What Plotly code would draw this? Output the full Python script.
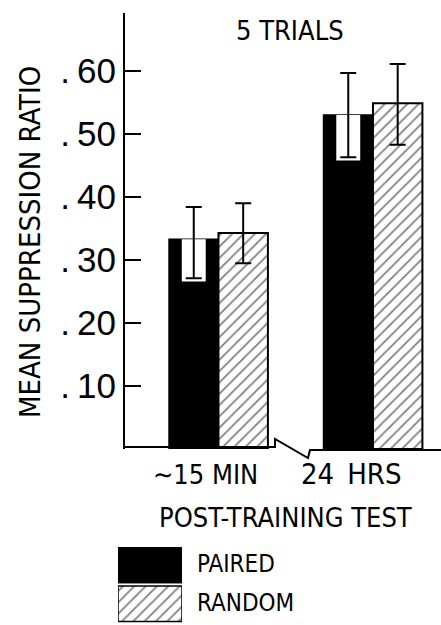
import plotly.graph_objects as go

# ---- data ----
groups = ["∼15 MIN", "24\u2002HRS"]
group_pos = [0, 1]
paired = [0.333, 0.530]
random_ = [0.343, 0.549]
paired_err_plus = [0.051, 0.067]
paired_err_minus = [0.062, 0.067]
random_err_plus = [0.047, 0.062]
random_err_minus = [0.048, 0.066]
ytick_vals = [0.1, 0.2, 0.3, 0.4, 0.5, 0.6]
ytick_text = [".\u200910", ".\u200920", ".\u200930", ".\u200940", ".\u200950", ".\u200960"]
legend_labels = ["PAIRED", "RANDOM"]
title_text = "5 TRIALS"
xtitle_text = "POST-TRAINING TEST"
ytitle_text = "MEAN SUPPRESSION RATIO"

# ---- geometry (pixels) ----
WIDTH, HEIGHT = 441, 625
L, R, T, B = 110, 0, 13, 2
PW, PH = WIDTH - L - R, HEIGHT - T - B


def pxx(px):
    return (px - L) / PW


def pxy(py):
    return (HEIGHT - B - py) / PH


FONT = "DejaVu Sans Condensed, DejaVu Sans, sans-serif"
TICKFONT = "Liberation Sans, Arial, sans-serif"

off = 0.16
bw = 0.32
px_paired = [g - off for g in group_pos]
px_random = [g + off for g in group_pos]

hatch = dict(shape="/", fgcolor="black", bgcolor="white", size=8, solidity=0.22)

fig = go.Figure()
fig.add_trace(go.Bar(x=px_paired, y=paired, width=bw, marker=dict(color="black", line=dict(color="black", width=1.5)),
                     showlegend=False, hoverinfo="skip"))
fig.add_trace(go.Bar(x=px_random, y=random_, width=bw,
                     marker=dict(color="white", line=dict(color="black", width=2), pattern=hatch),
                     showlegend=False, hoverinfo="skip"))
# white cut-out inside paired bars around the lower error bar
gap = 0.005
fig.add_trace(go.Bar(x=px_paired, y=[m + gap for m in paired_err_minus],
                     base=[p - m - gap for p, m in zip(paired, paired_err_minus)], width=0.155,
                     marker=dict(color="white", line=dict(width=0)), showlegend=False, hoverinfo="skip"))
# error bars
fig.add_trace(go.Scatter(x=px_paired, y=paired, mode="markers", marker=dict(size=1, opacity=0),
                         error_y=dict(type="data", symmetric=False, array=paired_err_plus,
                                      arrayminus=paired_err_minus, color="black", thickness=2, width=8),
                         showlegend=False, hoverinfo="skip"))
fig.add_trace(go.Scatter(x=px_random, y=random_, mode="markers", marker=dict(size=1, opacity=0),
                         error_y=dict(type="data", symmetric=False, array=random_err_plus,
                                      arrayminus=random_err_minus, color="black", thickness=2, width=8),
                         showlegend=False, hoverinfo="skip"))

# legend swatches on their own small axes
fig.add_trace(go.Bar(x=[1], y=[legend_labels[0]], orientation="h", xaxis="x2", yaxis="y2",
                     marker=dict(color="black", line=dict(color="black", width=1)), showlegend=False, hoverinfo="skip"))
fig.add_trace(go.Bar(x=[1], y=[legend_labels[1]], orientation="h", xaxis="x2", yaxis="y2",
                     marker=dict(color="white", line=dict(color="black", width=1.5), pattern=hatch),
                     showlegend=False, hoverinfo="skip"))

x_left = -0.605
x_right = x_left + PW * (1 - pxx(125)) / 154.5

fig.update_layout(
    width=WIDTH, height=HEIGHT,
    margin=dict(l=L, r=R, t=T, b=B, autoexpand=False),
    paper_bgcolor="white", plot_bgcolor="white",
    barmode="overlay", bargap=0.08,
    xaxis=dict(domain=[pxx(125), 1], range=[x_left, x_right], visible=False, automargin=False),
    yaxis=dict(domain=[pxy(449), 1], range=[0, 436 / 630], showline=True, linecolor="black", linewidth=2,
               ticks="inside", ticklen=16, tickwidth=1.5, tickcolor="black", automargin=False,
               tickvals=ytick_vals, ticktext=ytick_text, showgrid=False, zeroline=False,
               tickfont=dict(family=TICKFONT, size=35, color="black")),
    xaxis2=dict(domain=[pxx(118), pxx(182)], range=[0, 1], visible=False, anchor="y2", automargin=False),
    yaxis2=dict(domain=[0, pxy(546)], range=[-0.5, 1.5], visible=False, anchor="x2", automargin=False,
                categoryorder="array", categoryarray=[legend_labels[1], legend_labels[0]]),
)

# axis break baseline
pts = [(123, 447), (275, 447), (275, 439), (308, 458), (310, 450), (441, 450)]
path = "M " + " L ".join(f"{pxx(a):.5f},{pxy(b):.5f}" for a, b in pts)
fig.add_shape(type="path", path=path, xref="paper", yref="paper", line=dict(color="black", width=2))

ann = []
ann.append(dict(text=title_text, x=pxx(290), y=pxy(31), font=dict(size=27)))
ann.append(dict(text=groups[0], x=pxx(205), y=pxy(474), font=dict(size=27)))
ann.append(dict(text=groups[1], x=pxx(351), y=pxy(474), font=dict(size=29)))
ann.append(dict(text=xtitle_text, x=pxx(285), y=pxy(517), font=dict(size=27)))
ann.append(dict(text=ytitle_text, x=pxx(30), y=pxy(242), textangle=-90, font=dict(size=29)))
ann.append(dict(text=legend_labels[0], x=pxx(195), y=pxy(564), xanchor="left", font=dict(size=24)))
ann.append(dict(text=legend_labels[1], x=pxx(195), y=pxy(603), xanchor="left", font=dict(size=24)))
for a in ann:
    a.setdefault("xanchor", "center")
    a.update(xref="paper", yref="paper", yanchor="middle", showarrow=False)
    a["font"].update(family=FONT, color="black")
    fig.add_annotation(**a)

fig.write_html("out.html", config={"displayModeBar": False},
               post_script="document.body.style.margin='0';")
